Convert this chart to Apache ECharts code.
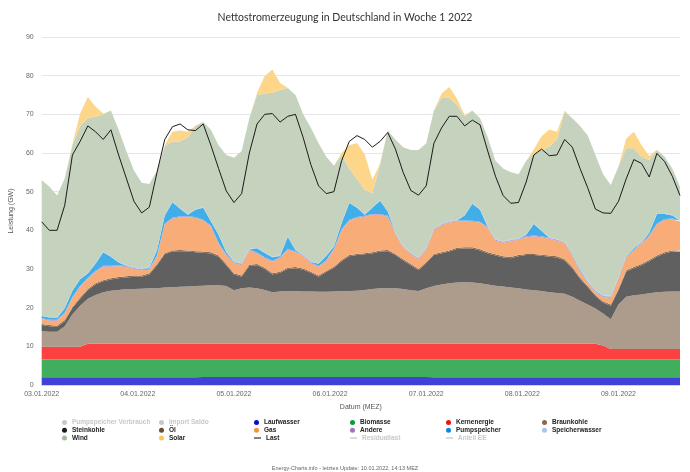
<!DOCTYPE html>
<html>
<head>
<meta charset="utf-8">
<script src="https://cdn.jsdelivr.net/npm/echarts@6/dist/echarts.min.js"></script>
<style>
html,body{margin:0;padding:0;background:#fff;}
#c{width:690px;height:472px;}
</style>
</head>
<body>
<div id="c"></div>
<script>
// time in hours since 03.01.2022 00:00 (2-hour steps)
const hours = [0,2,4,6,8,10,12,14,16,18,20,22,24,26,28,30,32,34,36,38,40,42,44,46,48,50,52,54,56,58,60,62,64,66,68,70,72,74,76,78,80,82,84,86,88,90,92,94,96,98,100,102,104,106,108,110,112,114,116,118,120,122,124,126,128,130,132,134,136,138,140,142,144,146,148,150,152,154,156,158,160,162,164,166];
const dateLabels = ['03.01.2022','04.01.2022','05.01.2022','06.01.2022','07.01.2022','08.01.2022','09.01.2022'];
const yTicks = [0,10,20,30,40,50,60,70,80,90];

const laufwasser = [2.0,2.0,2.0,2.0,2.0,2.0,2.0,2.0,2.0,2.0,2.0,2.0,2.0,2.0,2.0,2.0,2.0,2.0,2.0,2.0,2.0,2.1,2.1,2.1,2.1,2.1,2.1,2.1,2.1,2.1,2.1,2.1,2.1,2.1,2.1,2.1,2.1,2.1,2.1,2.1,2.1,2.1,2.1,2.1,2.1,2.1,2.1,2.1,2.1,2.1,2.1,2.0,2.0,2.0,2.0,2.0,2.0,2.0,2.0,2.0,2.0,2.0,2.0,2.0,2.0,2.0,2.0,2.0,2.0,2.0,2.0,2.0,2.0,2.0,2.0,2.0,2.0,2.0,2.0,2.0,2.0,2.0,2.0,2.0];
const biomasse = [4.6,4.6,4.6,4.6,4.6,4.6,4.6,4.6,4.6,4.6,4.6,4.6,4.6,4.6,4.6,4.6,4.6,4.6,4.6,4.6,4.6,4.5,4.5,4.5,4.5,4.5,4.5,4.5,4.5,4.5,4.5,4.5,4.5,4.5,4.5,4.5,4.5,4.5,4.5,4.5,4.5,4.5,4.5,4.5,4.5,4.5,4.5,4.5,4.5,4.5,4.5,4.6,4.6,4.6,4.6,4.6,4.6,4.6,4.6,4.6,4.6,4.6,4.6,4.6,4.6,4.6,4.6,4.6,4.6,4.6,4.6,4.6,4.6,4.6,4.6,4.6,4.6,4.6,4.6,4.6,4.6,4.6,4.6,4.6];
const kernenergie = [3.3,3.3,3.3,3.3,3.3,3.3,4.1,4.1,4.1,4.1,4.1,4.1,4.1,4.1,4.1,4.1,4.1,4.1,4.1,4.1,4.1,4.1,4.1,4.1,4.1,4.1,4.1,4.1,4.1,4.1,4.1,4.1,4.1,4.1,4.1,4.1,4.1,4.1,4.1,4.1,4.1,4.1,4.1,4.1,4.1,4.1,4.1,4.1,4.1,4.1,4.1,4.1,4.1,4.1,4.1,4.1,4.1,4.1,4.1,4.1,4.1,4.1,4.1,4.1,4.1,4.1,4.1,4.1,4.1,4.1,4.1,4.1,4.1,3.6,2.7,2.7,2.7,2.7,2.7,2.7,2.7,2.7,2.7,2.7];
const braunkohle = [4.0,3.9,3.9,5.3,8.4,10.6,11.6,12.6,13.3,13.7,13.9,14.1,14.1,14.2,14.3,14.3,14.5,14.6,14.7,14.8,14.9,15.0,15.1,15.1,14.9,13.8,14.3,14.5,14.3,13.9,13.3,13.5,13.6,13.6,13.5,13.5,13.4,13.4,13.5,13.6,13.6,13.7,13.9,14.1,14.3,14.3,14.3,14.1,13.8,13.6,14.3,14.9,15.3,15.6,15.8,15.9,15.8,15.6,15.3,15.0,14.8,14.5,14.3,14.0,13.8,13.6,13.3,13.1,12.9,12.1,11.1,10.1,9.1,8.3,7.7,11.5,13.5,13.9,14.1,14.4,14.7,14.8,14.9,14.9];
const steinkohle = [1.6,1.4,1.2,1.3,1.6,1.8,2.2,2.7,2.8,2.9,3.0,3.0,3.2,3.1,3.6,6.0,8.6,9.2,9.2,9.0,8.7,8.5,8.2,7.4,5.4,4.1,3.0,5.6,6.0,5.4,4.6,4.8,5.7,5.9,5.6,4.8,3.9,5.1,6.1,7.7,9.0,9.2,9.2,9.2,9.5,9.6,8.6,7.4,6.5,5.4,6.5,8.0,8.0,8.2,8.7,8.7,8.8,8.5,8.0,7.8,7.5,7.6,8.3,8.9,9.1,9.1,9.2,9.2,8.6,7.4,5.7,4.5,3.2,2.8,3.5,3.7,6.5,7.0,7.6,8.3,9.2,9.9,10.3,10.3];
const oel = [0.3,0.3,0.3,0.3,0.3,0.3,0.3,0.3,0.3,0.3,0.3,0.3,0.3,0.3,0.3,0.3,0.3,0.3,0.3,0.3,0.3,0.3,0.3,0.3,0.3,0.3,0.3,0.3,0.3,0.3,0.3,0.3,0.3,0.3,0.3,0.3,0.3,0.3,0.3,0.3,0.3,0.3,0.3,0.3,0.3,0.3,0.3,0.3,0.3,0.3,0.3,0.3,0.3,0.3,0.3,0.3,0.3,0.3,0.3,0.3,0.3,0.3,0.3,0.3,0.3,0.3,0.3,0.3,0.3,0.3,0.3,0.3,0.3,0.3,0.3,0.3,0.3,0.3,0.3,0.3,0.3,0.3,0.3,0.3];
const gas = [1.3,1.1,1.3,1.7,2.3,2.8,2.7,3.0,3.5,3.0,2.8,2.4,1.7,1.4,0.9,2.0,7.4,8.2,8.5,8.6,8.6,8.0,6.7,3.0,2.2,2.6,2.7,3.7,2.7,2.5,3.0,3.5,4.7,3.8,3.3,2.2,2.2,2.5,4.4,7.7,8.9,9.3,9.4,9.7,9.2,8.6,5.1,3.1,2.5,2.6,3.2,6.1,7.0,7.2,6.8,6.7,6.6,6.9,6.3,3.5,3.5,4.1,4.0,4.3,4.5,4.5,4.3,4.0,4.2,3.0,1.5,0.9,0.7,1.1,1.7,2.7,3.4,4.3,5.2,6.2,8.0,8.4,8.0,7.5];
const andere = [0.25,0.25,0.25,0.25,0.25,0.25,0.25,0.25,0.25,0.25,0.25,0.25,0.25,0.25,0.25,0.25,0.25,0.25,0.25,0.25,0.25,0.25,0.25,0.25,0.25,0.25,0.25,0.25,0.25,0.25,0.25,0.25,0.25,0.25,0.25,0.25,0.25,0.25,0.25,0.25,0.25,0.25,0.25,0.25,0.25,0.25,0.25,0.25,0.25,0.25,0.25,0.25,0.25,0.25,0.25,0.25,0.25,0.25,0.25,0.25,0.25,0.25,0.25,0.25,0.25,0.25,0.25,0.25,0.25,0.25,0.25,0.25,0.25,0.25,0.25,0.25,0.25,0.25,0.25,0.25,0.25,0.25,0.25,0.25];
const pumpspeicher = [0.5,0.6,0.5,1.1,1.6,1.7,1.1,1.8,3.5,2.3,0.7,0.1,0.1,0.0,0.3,1.3,2.1,4.0,1.9,0.4,1.9,3.1,1.1,2.1,0.6,0.1,0.1,0.0,1.1,1.1,0.9,0.3,3.1,0.3,0.0,0.1,0.6,1.1,0.6,1.6,4.3,2.4,0.3,1.6,3.4,1.1,0.0,0.0,0.0,0.0,0.1,0.1,0.0,0.0,0.0,1.3,4.4,3.1,0.0,0.0,0.0,0.0,0.0,0.4,3.0,1.4,0.0,0.0,0.0,0.1,0.3,0.1,0.1,0.1,0.1,0.1,0.1,0.3,0.1,0.6,2.5,1.3,0.8,0.0];
const speicherwasser = [0.15,0.15,0.15,0.15,0.15,0.15,0.15,0.15,0.15,0.15,0.15,0.15,0.15,0.15,0.15,0.15,0.15,0.15,0.15,0.15,0.15,0.15,0.15,0.15,0.15,0.15,0.15,0.15,0.15,0.15,0.15,0.15,0.15,0.15,0.15,0.15,0.15,0.15,0.15,0.15,0.15,0.15,0.15,0.15,0.15,0.15,0.15,0.15,0.15,0.15,0.15,0.15,0.15,0.15,0.15,0.15,0.15,0.15,0.15,0.15,0.15,0.15,0.15,0.15,0.15,0.15,0.15,0.15,0.15,0.15,0.15,0.15,0.15,0.15,0.15,0.15,0.15,0.15,0.15,0.15,0.15,0.15,0.15,0.15];
const wind = [35,33.7,31.5,33.5,37.5,39.5,40,37.9,35.5,37.7,34.2,29.5,25,22.2,21.5,20.5,17.8,15.6,17.3,19.8,21.5,22,23.5,23,25,26.8,29,33.8,39.5,41.1,42.4,42.8,38.3,40,36.2,34.5,31,25.5,20.7,17.5,8.8,7.3,6.3,3.6,9.2,20.8,24.1,25.5,26.6,27.8,27,30.5,32.5,31.9,29.8,25.5,24,23.5,23,20.3,18.8,17.4,16.5,19,18.2,20.8,23.4,25.8,33.6,35.0,37,37.5,35,31.3,28.7,28.5,27.7,25.7,22,18.7,16.4,14.6,12,8.6];
const solar = [0,0,0,0,0.3,3.2,5.5,2.6,0.2,0,0,0,0,0,0,0,0.3,2.5,2.8,1.5,0.1,0,0,0,0,0,0,0,0.5,4.5,6.0,1.8,0,0,0,0,0,0,0,0.5,6.0,9.3,9.2,3.5,0.3,0,0,0,0,0,0,0,1.2,2.8,1.5,0.3,0,0,0,0,0,0,0,0,1.0,3.5,4.5,2.0,0.2,0,0,0,0,0,0,0,2.5,4.3,3.0,1.0,0.1,0,0,0];
const last = [42.2,40.0,40.0,46.5,59.5,63,67,65.5,63.5,66,59.5,53.5,47.5,44.5,46,55,63.5,66.8,67.5,66,65.8,67.5,62,56,50.2,47.2,49.5,60,67.5,70,70.2,68,69.5,70,64,57,51.5,49.5,50,58,63,64.5,63.5,61.5,63,65.3,61,55,50.3,49.1,51.5,62.5,66.5,69.5,69.5,67,68.5,67.3,60.5,54,49,47,47.2,52.5,59.5,61,59.3,59.5,63.5,61.5,56,51,45.5,44.5,44.4,47.5,53.3,58.3,57.3,53.8,59.9,57.8,54,49];

const stacked = [
  {name:'Laufwasser', data:laufwasser, base:'#0b0bd0', fill:'#4141d9'},
  {name:'Biomasse', data:biomasse, base:'#0a9a30', fill:'#41ae5e'},
  {name:'Kernenergie', data:kernenergie, base:'#f01010', fill:'#fd4141'},
  {name:'Braunkohle', data:braunkohle, base:'#8b6846', fill:'#ad9b8b'},
  {name:'Steinkohle', data:steinkohle, base:'#1a1a1a', fill:'#606060'},
  {name:'Öl', data:oel, base:'#6e4a2e', fill:'#8a6a50'},
  {name:'Gas', data:gas, base:'#f5923e', fill:'#f8ac78'},
  {name:'Andere', data:andere, base:'#9a78c0', fill:'#b49ad0'},
  {name:'Pumpspeicher', data:pumpspeicher, base:'#0a8ae0', fill:'#41aee8'},
  {name:'Speicherwasser', data:speicherwasser, base:'#a8c4f0', fill:'#a8c8f0'},
  {name:'Wind', data:wind, base:'#a2b99a', fill:'#c4d2be'},
  {name:'Solar', data:solar, base:'#fcc75a', fill:'#fdd68a'}
];

const series = stacked.map(s => ({
  name: s.name, type: 'line', stack: 'total', data: s.data, xAxisIndex: 0,
  symbol: 'none', showSymbol: false,
  lineStyle: {width: 0}, itemStyle: {color: s.base},
  areaStyle: {color: s.fill, opacity: 1}, emphasis: {disabled: true}
}));
series.push({name:'Last', type:'line', data: last, xAxisIndex: 0, symbol:'none',
  lineStyle:{color:'#1a1a1a', width:1}, itemStyle:{color:'#404040'}, z: 5});
['Pumpspeicher Verbrauch','Import Saldo','Residuallast','Anteil EE'].forEach(n =>
  series.push({name:n, type:'line', data:[], xAxisIndex: 0, symbol:'none', itemStyle:{color:'#999'}}));

const hidden = {'Pumpspeicher Verbrauch':false,'Import Saldo':false,'Residuallast':false,'Anteil EE':false};
const colX = [62, 159, 254, 350, 446, 542];
const legendTop = 418.5;
const lgText = {fontSize: 6.5, fontWeight: 'bold', color: '#222', lineHeight: 7.8, fontFamily: 'Liberation Sans'};
function colLegend(i, names) {
  return {left: colX[i], top: legendTop, orient: 'vertical', itemWidth: 5, itemHeight: 5, itemGap: 0,
    icon: 'circle', padding: 0, selected: hidden, inactiveColor: '#c8c8c8',
    textStyle: lgText, data: names};
}
function lineLegend(i, name) {
  return {left: colX[i], top: legendTop + 15.6, orient: 'vertical', itemWidth: 7, itemHeight: 1.3, itemGap: 0,
    icon: 'rect', padding: 0, selected: hidden, inactiveColor: '#c8c8c8',
    textStyle: lgText, data: [name]};
}

const option = {
  animation: false,
  backgroundColor: '#fff',
  title: [
    {text: 'Nettostromerzeugung in Deutschland in Woche 1 2022', left: 'center', top: 7,
     textStyle: {fontSize: 10.5, fontWeight: 'normal', color: '#333', fontFamily: 'Lato'}},
    {text: 'Energy-Charts.info - letztes Update: 10.01.2022, 14:13 MEZ', left: 'center', top: 460,
     textStyle: {fontSize: 5.5, fontWeight: 'normal', color: '#666', fontFamily: 'Liberation Sans'}}
  ],
  legend: [
    colLegend(0, ['Pumpspeicher Verbrauch','Steinkohle','Wind']),
    colLegend(1, ['Import Saldo','Öl','Solar']),
    colLegend(2, ['Laufwasser','Gas']),
    colLegend(3, ['Biomasse','Andere']),
    colLegend(4, ['Kernenergie','Pumpspeicher']),
    colLegend(5, ['Braunkohle','Speicherwasser']),
    lineLegend(2, 'Last'),
    lineLegend(3, 'Residuallast'),
    lineLegend(4, 'Anteil EE')
  ],
  grid: {left: 38, right: 10, top: 37, bottom: 87, containLabel: false},
  xAxis: [
    {type: 'category', data: hours, boundaryGap: false, position: 'bottom',
     axisLine: {show: true, lineStyle: {color: '#ccd6eb'}},
     axisTick: {show: false}, axisLabel: {show: false}, splitLine: {show: false}},
    {type: 'value', min: 0, max: hours[hours.length - 1], interval: 25, position: 'bottom',
     name: 'Datum (MEZ)', nameLocation: 'middle', nameGap: 19,
     nameTextStyle: {fontSize: 7, color: '#555', fontFamily: 'Liberation Sans'},
     axisLine: {show: false}, axisTick: {show: false}, splitLine: {show: false},
     axisLabel: {fontSize: 7, color: '#666', margin: 6, showMaxLabel: false, fontFamily: 'Liberation Sans',
       formatter: v => (v % 25 === 0 && dateLabels[v / 25]) ? dateLabels[v / 25] : ''}}
  ],
  yAxis: {
    type: 'value', min: yTicks[0], max: yTicks[yTicks.length - 1], interval: 10,
    name: 'Leistung (GW)', nameLocation: 'middle', nameGap: 22, nameRotate: 90,
    nameTextStyle: {fontSize: 7, color: '#555', fontFamily: 'Liberation Sans'},
    axisLine: {show: false}, axisTick: {show: false},
    splitLine: {lineStyle: {color: '#e6e6e6', width: 1}},
    axisLabel: {fontSize: 7, color: '#666', margin: 8, fontFamily: 'Liberation Sans'}
  },
  series: series
};

echarts.init(document.getElementById('c'), null, {renderer: 'canvas'}).setOption(option);
</script>
</body>
</html>
